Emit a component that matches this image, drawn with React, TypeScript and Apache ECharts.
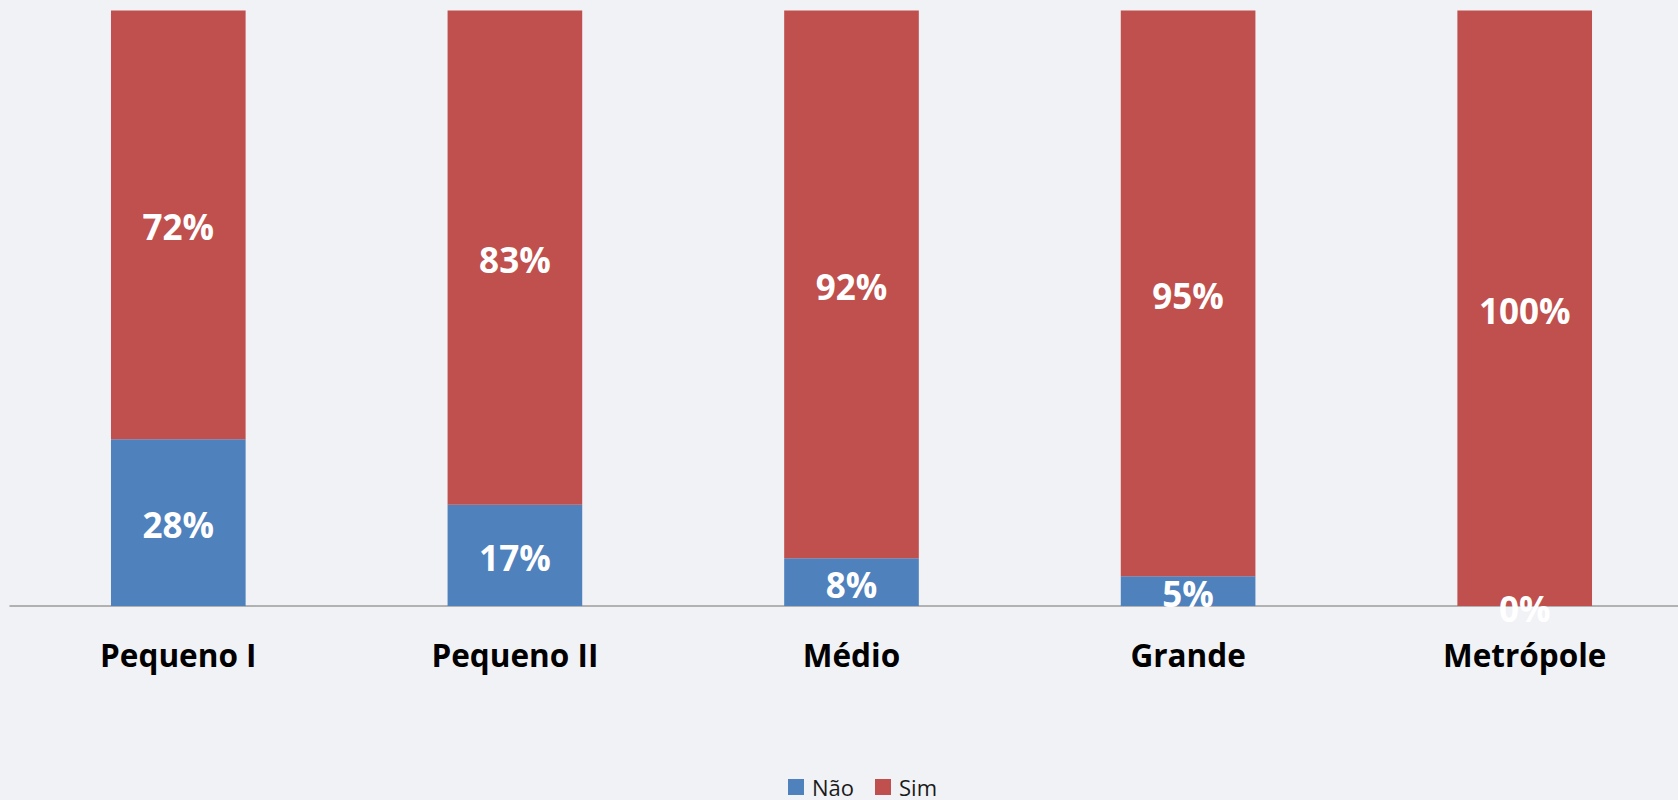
import React, { useEffect, useRef } from "react";
import * as echarts from "echarts";

const categories = ["Pequeno I", "Pequeno II", "Médio", "Grande", "Metrópole"];
const naoValues = [28, 17, 8, 5, 0];
const simValues = [72, 83, 92, 95, 100];
const seriesNames = ["Não", "Sim"];

export default function App() {
  const ref = useRef<HTMLDivElement>(null);
  useEffect(() => {
    if (!ref.current) return;
    const chart = echarts.init(ref.current, undefined, { renderer: "svg" });
    const labelStyle = {
      show: true,
      position: "inside" as const,
      color: "#ffffff",
      fontFamily: "Open Sans",
      fontWeight: "bold" as const,
      fontSize: 35,
      offset: [0, 2],
      formatter: "{c}%",
    };
    chart.setOption({
      animation: false,
      backgroundColor: "#f1f2f6",
      textStyle: { fontFamily: "Open Sans" },
      grid: {
        left: 10,
        width: 1683,
        top: 10.5,
        bottom: 194,
        containLabel: false,
        outerBoundsMode: "none",
      },
      legend: {
        data: seriesNames,
        left: 783,
        top: 771,
        itemWidth: 16,
        itemHeight: 16,
        itemGap: 21,
        icon: "rect",
        textStyle: {
          fontSize: 22,
          color: "#1a1a1a",
          fontFamily: "Open Sans",
          padding: [0, 0, 0, 3],
        },
      },
      xAxis: {
        type: "category",
        data: categories,
        axisLine: { show: true, lineStyle: { color: "#9c9c9c", width: 1.5 } },
        axisTick: { show: false },
        axisLabel: {
          margin: 32,
          color: "#000000",
          fontFamily: "Open Sans",
          fontWeight: "bold",
          fontSize: 31.5,
        },
      },
      yAxis: {
        type: "value",
        min: 0,
        max: 100,
        show: false,
        splitLine: { show: false },
      },
      series: [
        {
          name: seriesNames[0],
          type: "bar",
          stack: "total",
          data: naoValues,
          barCategoryGap: "60%",
          itemStyle: { color: "#4f81bd" },
          label: labelStyle,
        },
        {
          name: seriesNames[1],
          type: "bar",
          stack: "total",
          data: simValues,
          barCategoryGap: "60%",
          itemStyle: { color: "#c0504d" },
          label: labelStyle,
        },
      ],
    });
    return () => chart.dispose();
  }, []);
  return (
    <div
      ref={ref}
      style={{ position: "fixed", left: 0, top: 0, width: 1678, height: 800 }}
    />
  );
}
